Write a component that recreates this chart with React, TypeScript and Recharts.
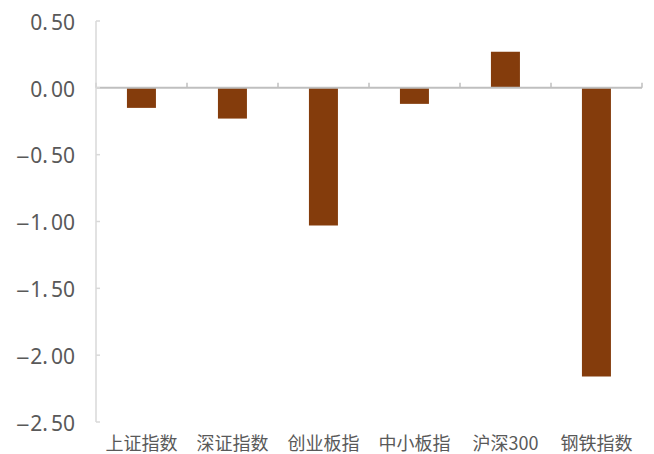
import React from 'react';
import { BarChart, Bar, XAxis, YAxis, ReferenceLine } from 'recharts';

// Daily change (%) of the major indices vs. the steel index
const categories = ['上证指数', '深证指数', '创业板指', '中小板指', '沪深300', '钢铁指数'];
const changes = [-0.15, -0.23, -1.03, -0.12, 0.27, -2.16];
const yTicks = [0.5, 0, -0.5, -1, -1.5, -2, -2.5];

const data = categories.map((name, i) => ({ name, value: changes[i] }));

const LABEL_COLOR = '#595959';
const BAR_COLOR = '#843C0C';

// Value tick: "0.50" style, long minus sign and a little air after the decimal point
const YTick = (props: any) => {
  const { x, y, payload } = props;
  const v = Number(payload.value);
  const s = Math.abs(v).toFixed(2);
  const dot = s.indexOf('.');
  return (
    <text
      x={x}
      y={y}
      dy="0.42em"
      textAnchor="end"
      fill={LABEL_COLOR}
      fontSize={21}
      fontFamily="'Noto Sans', sans-serif"
    >
      {v < 0 && (
        <tspan fontFamily="'DejaVu Sans', sans-serif" fontSize={18}>
          {'\u2212'}
        </tspan>
      )}
      <tspan>{s.slice(0, dot + 1)}</tspan>
      <tspan dx={3}>{s.slice(dot + 1)}</tspan>
    </text>
  );
};

// Zero baseline drawn as the category axis, with tick marks at each band boundary
const ZeroAxis = (props: any) => {
  const { x1, x2, y1 } = props;
  const n = categories.length;
  const step = (x2 - x1) / n;
  const marks = [];
  for (let i = 0; i <= n; i++) {
    const x = x1 + i * step;
    marks.push(<line key={i} x1={x} x2={x} y1={y1} y2={y1 - 5} stroke="#bfbfbf" strokeWidth={1.5} />);
  }
  return (
    <g>
      <line x1={x1} x2={x2} y1={y1} y2={y1} stroke="#bfbfbf" strokeWidth={2} />
      {marks}
    </g>
  );
};

export default function App() {
  return (
    <div style={{ position: 'absolute', left: 0, top: 0, background: '#fff' }}>
      <BarChart
        width={654}
        height={454}
        data={data}
        margin={{ top: 21, right: 12, bottom: 0, left: 0 }}
        barCategoryGap="34%"
      >
        <XAxis
          dataKey="name"
          height={32}
          axisLine={false}
          tickLine={false}
          tickSize={0}
          tickMargin={15}
          interval={0}
          tick={{ fill: LABEL_COLOR, fontSize: 18, fontFamily: 'Noto Sans CJK SC' }}
        />
        <YAxis
          width={96}
          domain={[-2.5, 0.5]}
          ticks={yTicks}
          interval={0}
          axisLine={{ stroke: '#d9d9d9', strokeWidth: 1.5 }}
          tickLine={{ stroke: '#d9d9d9', strokeWidth: 1.5 }}
          tickSize={-4}
          tickMargin={25}
          tick={<YTick />}
        />
        <Bar dataKey="value" fill={BAR_COLOR} isAnimationActive={false} />
        <ReferenceLine y={0} shape={ZeroAxis} />
      </BarChart>
    </div>
  );
}
